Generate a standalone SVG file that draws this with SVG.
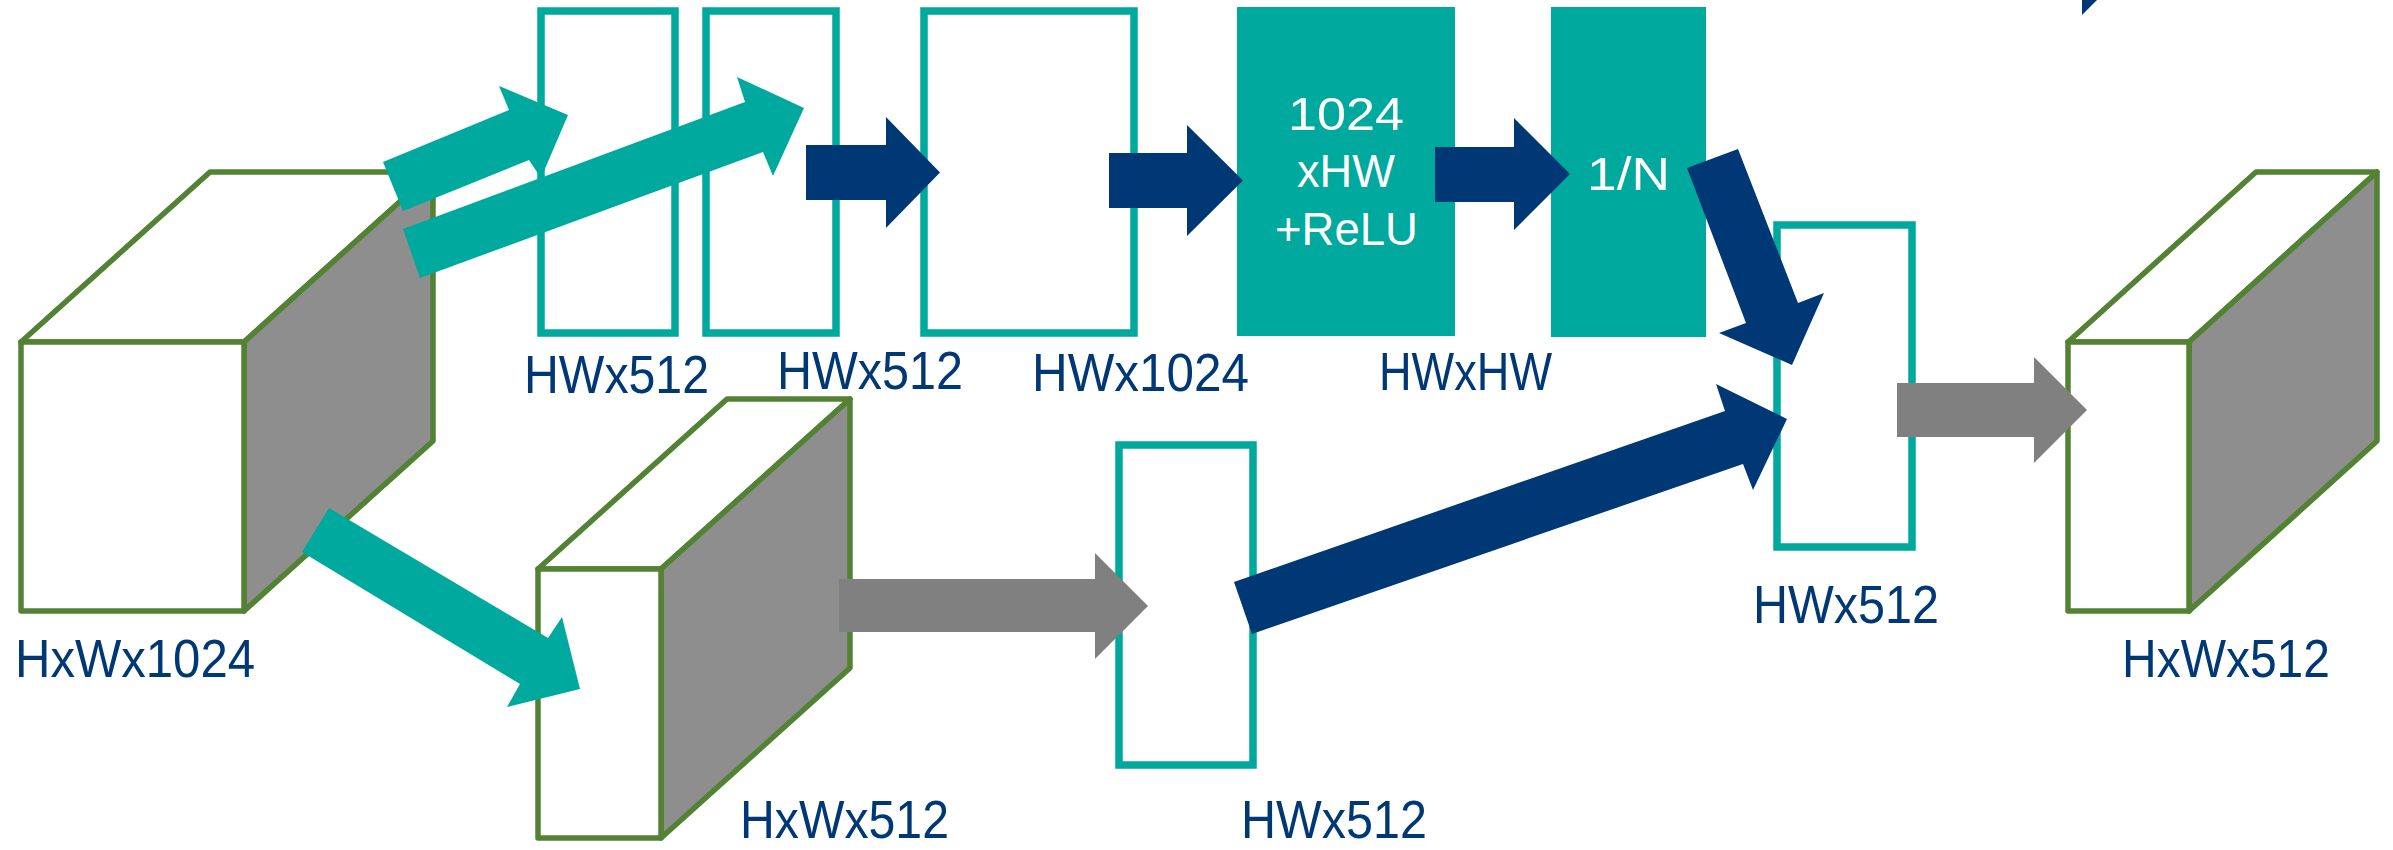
<svg xmlns="http://www.w3.org/2000/svg" width="2393" height="850" viewBox="0 0 2393 850">
<style>
.cube polygon, .cube rect { stroke: #548235; stroke-width: 5.5; stroke-linejoin: round; }
.top { fill: #ffffff; }
.side { fill: #8e8e8e; }
.front { fill: #ffffff; }
.obox { fill: #ffffff; stroke: #00a99d; stroke-width: 7.5; }
.fbox { fill: #00a99d; }
.lbl { font-family: "Liberation Sans", Arial, sans-serif; font-size: 54px; fill: #003875; }
.in { font-family: "Liberation Sans", Arial, sans-serif; font-size: 46px; fill: #ffffff; }
.teal { fill: #00a99d; }
.navy { fill: #003875; }
.grey { fill: #808080; }
</style>
<rect width="2393" height="850" fill="#ffffff"/>

<g id="cube-input" class="cube">
  <polygon class="top" points="21,342 244,342 433,172 210,172"/>
  <polygon class="side" points="244,342 433,172 433,441 244,611"/>
  <rect class="front" x="21" y="342" width="223" height="269"/>
  <text class="lbl" x="15" y="677" textLength="240" lengthAdjust="spacingAndGlyphs">HxWx1024</text>
</g>

<g id="box-theta">
  <rect class="obox" x="541" y="11" width="134" height="322"/>
  <text class="lbl" x="524" y="393" textLength="185" lengthAdjust="spacingAndGlyphs">HWx512</text>
</g>

<g id="box-phi">
  <rect class="obox" x="706" y="11" width="130" height="322"/>
  <text class="lbl" x="777" y="389" textLength="186" lengthAdjust="spacingAndGlyphs">HWx512</text>
</g>

<g id="box-concat">
  <rect class="obox" x="924" y="11" width="210" height="322"/>
  <text class="lbl" x="1032" y="391" textLength="217" lengthAdjust="spacingAndGlyphs">HWx1024</text>
</g>

<g id="box-relu">
  <rect class="fbox" x="1237" y="7" width="218" height="329"/>
  <text class="in" x="1288" y="130" textLength="116" lengthAdjust="spacingAndGlyphs">1024</text>
  <text class="in" x="1297" y="187" textLength="98" lengthAdjust="spacingAndGlyphs">xHW</text>
  <text class="in" x="1275" y="245" textLength="143" lengthAdjust="spacingAndGlyphs">+ReLU</text>
  <text class="lbl" x="1379" y="390" textLength="173" lengthAdjust="spacingAndGlyphs">HWxHW</text>
</g>

<g id="box-norm">
  <rect class="fbox" x="1551" y="7" width="155" height="330"/>
  <text class="in" x="1587" y="190" textLength="83" lengthAdjust="spacingAndGlyphs">1/N</text>
</g>

<g id="box-y">
  <rect class="obox" x="1777" y="225" width="135" height="322"/>
  <text class="lbl" x="1753" y="623" textLength="186" lengthAdjust="spacingAndGlyphs">HWx512</text>
</g>

<g id="cube-g" class="cube">
  <polygon class="top" points="538,569 661,569 850,399 727,399"/>
  <polygon class="side" points="661,569 850,399 850,668 661,838"/>
  <rect class="front" x="538" y="569" width="123" height="269"/>
  <text class="lbl" x="740" y="838" textLength="209" lengthAdjust="spacingAndGlyphs">HxWx512</text>
</g>

<g id="box-g">
  <rect class="obox" x="1119" y="445" width="134" height="320"/>
  <text class="lbl" x="1241" y="838" textLength="186" lengthAdjust="spacingAndGlyphs">HWx512</text>
</g>

<g id="cube-output" class="cube">
  <polygon class="top" points="2068,342 2189,342 2377,172 2256,172"/>
  <polygon class="side" points="2189,342 2377,172 2377,441 2189,611"/>
  <rect class="front" x="2068" y="342" width="121" height="269"/>
  <text class="lbl" x="2122" y="677" textLength="208" lengthAdjust="spacingAndGlyphs">HxWx512</text>
</g>

<g id="connectors">
  <polygon class="teal" points="383,162 509,110 499,86 568,115 541,178 529,160 403,211"/>
  <polygon class="teal" points="403,229 745,102 737,77 804,108 773,176 763,152 420,278"/>
  <polygon class="teal" points="329,508 548,638 562,617 580,689 507,707 520,684 302,552"/>
  <polygon class="navy" points="806,145 886,145 886,117 940,172.5 886,228 886,200 806,200"/>
  <polygon class="navy" points="1109,153 1187,153 1187,125 1243,180.5 1187,236 1187,208 1109,208"/>
  <polygon class="navy" points="1435,147 1514,147 1514,118 1570,174 1514,230 1514,202 1435,202"/>
  <polygon class="navy" points="1687,168 1738,149 1798,303 1824,293 1792,365 1719,333 1746,323"/>
  <polygon class="navy" points="1234,582 1725,411 1716,384 1787,419 1753,490 1743,464 1252,634"/>
  <polygon class="grey" points="839,579 1095,579 1095,553 1148,606 1095,659 1095,632 839,632"/>
  <polygon class="grey" points="1897,383 2034,383 2034,357 2087,410 2034,463 2034,437 1897,437"/>
  <polygon class="navy" points="2082,0 2097,0 2082,15"/>
</g>
</svg>
